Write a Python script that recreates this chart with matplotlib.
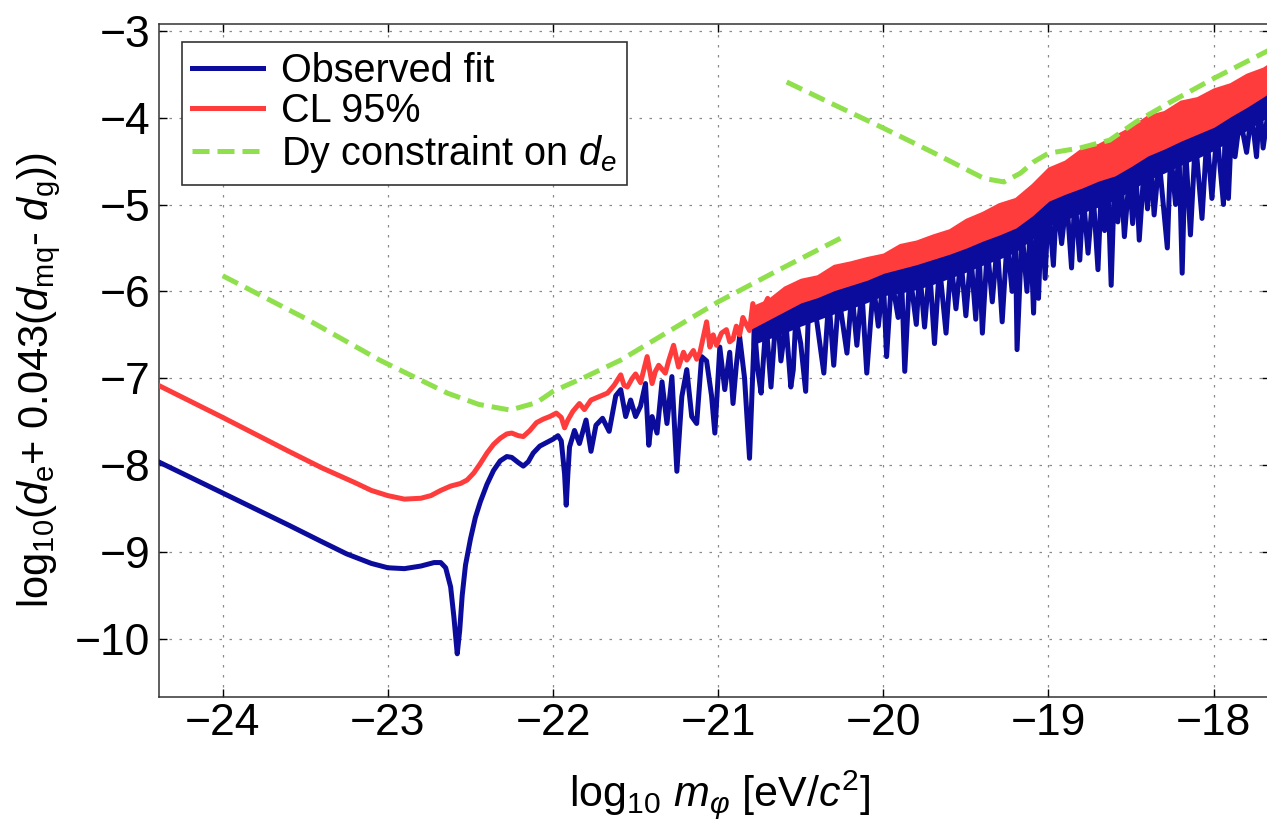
import matplotlib
matplotlib.use("Agg")
import matplotlib.pyplot as plt

plt.rcParams['font.family'] = ['Liberation Sans', 'DejaVu Sans']
plt.rcParams['mathtext.fontset'] = 'custom'
plt.rcParams['mathtext.rm'] = 'Liberation Sans'
plt.rcParams['mathtext.it'] = 'Liberation Sans:italic'
plt.rcParams['mathtext.bf'] = 'Liberation Sans:bold'

# ---- data ----
# observed fit (blue): smooth part, dip and first oscillations
blue_x = [-24.39, -24.0, -23.6, -23.4, -23.25, -23.1, -23.0, -22.9, -22.8, -22.72,
          -22.68, -22.65, -22.62, -22.60, -22.58, -22.565, -22.55, -22.53, -22.50, -22.47,
          -22.44, -22.40, -22.36, -22.32, -22.28, -22.25, -22.21, -22.18, -22.15, -22.12,
          -22.08, -22.04, -22.00, -21.97, -21.95, -21.93, -21.92, -21.91, -21.90, -21.87,
          -21.84, -21.80, -21.77, -21.74, -21.70, -21.66, -21.62, -21.59, -21.56, -21.53,
          -21.50, -21.47, -21.44, -21.42, -21.40, -21.37, -21.34, -21.31, -21.28, -21.25,
          -21.22, -21.19, -21.16, -21.13, -21.10, -21.07, -21.04, -21.02, -20.99, -20.96,
          -20.93, -20.91, -20.89, -20.87, -20.84, -20.81, -20.78, -20.76, -20.74, -20.71,
          -20.68, -20.66, -20.64, -20.62, -20.59, -20.56, -20.545, -20.53, -20.50, -20.47,
          -20.45, -20.42]
blue_y = [-7.96, -8.32, -8.69, -8.88, -9.02, -9.13, -9.18, -9.19, -9.16, -9.12,
          -9.12, -9.18, -9.40, -9.75, -10.17, -9.90, -9.50, -9.15, -8.85, -8.60,
          -8.42, -8.22, -8.06, -7.95, -7.90, -7.91, -7.97, -8.01, -7.96, -7.86,
          -7.78, -7.74, -7.70, -7.66, -7.72, -8.10, -8.46, -8.10, -7.79, -7.60,
          -7.75, -7.48, -7.84, -7.54, -7.46, -7.61, -7.20, -7.13, -7.44, -7.25,
          -7.44, -7.32, -7.06, -7.77, -7.44, -7.63, -7.04, -7.52, -6.98, -8.07,
          -7.21, -6.90, -7.44, -7.52, -6.75, -6.80, -7.20, -7.63, -6.64, -7.13,
          -6.70, -7.29, -6.85, -6.52, -7.00, -7.92, -6.41, -6.90, -7.17, -6.35,
          -7.10, -6.55, -6.29, -6.80, -6.35, -7.10, -6.90, -6.30, -6.60, -7.15,
          -6.06, -6.10]

# observed fit, dense region: solid band and spikes
band_x = [-20.8, -20.7, -20.6, -20.5, -20.4, -20.3, -20.2, -20.1, -20.0, -19.9,
          -19.8, -19.7, -19.6, -19.5, -19.4, -19.3, -19.2, -19.1, -19.0, -18.9,
          -18.8, -18.7, -18.6, -18.5, -18.4, -18.3, -18.2, -18.1, -18.0, -17.9,
          -17.8, -17.7, -17.66]
blue_band_top = [-6.38, -6.28, -6.19, -6.10, -6.03, -5.95, -5.89, -5.83, -5.75, -5.70,
                 -5.65, -5.59, -5.53, -5.46, -5.38, -5.31, -5.23, -5.09, -4.92, -4.84,
                 -4.77, -4.69, -4.63, -4.52, -4.40, -4.32, -4.23, -4.15, -4.07, -3.95,
                 -3.84, -3.72, -3.67]
blue_band_bot = [-6.62, -6.55, -6.48, -6.40, -6.33, -6.26, -6.20, -6.13, -6.05, -6.02,
                 -5.98, -5.92, -5.85, -5.78, -5.70, -5.63, -5.55, -5.40, -5.25, -5.18,
                 -5.10, -5.03, -4.95, -4.84, -4.72, -4.64, -4.55, -4.47, -4.38, -4.27,
                 -4.15, -4.03, -3.98]

spike_x = [-20.42, -20.36, -20.33, -20.30, -20.27, -20.22, -20.19, -20.16, -20.13, -20.10,
           -20.06, -20.03, -20.00, -19.98, -19.95, -19.91, -19.89, -19.87, -19.84, -19.80,
           -19.78, -19.75, -19.72, -19.69, -19.66, -19.62, -19.59, -19.56, -19.53, -19.50,
           -19.47, -19.44, -19.42, -19.40, -19.37, -19.34, -19.31, -19.28, -19.25, -19.22,
           -19.20, -19.19, -19.16, -19.13, -19.11, -19.09, -19.07, -19.06, -19.04, -19.02,
           -19.00, -18.97, -18.95, -18.92, -18.89, -18.86, -18.84, -18.81, -18.79, -18.76,
           -18.73, -18.70, -18.68, -18.66, -18.64, -18.62, -18.60, -18.58, -18.56, -18.54,
           -18.51, -18.49, -18.47, -18.45, -18.42, -18.40, -18.38, -18.36, -18.33, -18.28,
           -18.26, -18.23, -18.21, -18.19, -18.17, -18.14, -18.11, -18.07, -18.04, -18.01,
           -17.98, -17.94, -17.93, -17.91, -17.89, -17.87, -17.84, -17.80, -17.77, -17.74,
           -17.72, -17.70, -17.66]
spike_y = [-6.10, -6.94, -6.08, -6.85, -6.05, -6.71, -6.00, -6.62, -5.98, -6.94,
           -5.92, -6.40, -5.85, -6.75, -5.85, -6.30, -5.80, -6.92, -5.78, -6.38,
           -5.76, -6.41, -5.72, -6.60, -5.70, -6.48, -5.65, -6.20, -5.62, -6.28,
           -5.58, -6.32, -5.52, -6.48, -5.50, -6.12, -5.45, -6.35, -5.40, -6.00,
           -5.35, -6.67, -5.30, -6.00, -5.25, -6.25, -5.05, -6.08, -5.00, -5.85,
           -4.98, -5.70, -4.95, -5.45, -4.92, -5.73, -4.90, -5.64, -4.88, -5.56,
           -4.85, -5.75, -4.82, -5.30, -4.78, -5.93, -4.72, -5.20, -4.70, -5.37,
           -4.66, -5.22, -4.62, -5.41, -4.55, -5.05, -4.50, -5.12, -4.48, -5.50,
           -4.40, -5.00, -4.35, -5.79, -4.32, -5.35, -4.25, -5.16, -4.20, -4.93,
           -4.15, -5.00, -4.12, -4.93, -4.05, -4.45, -4.00, -4.40, -3.95, -4.45,
           -3.85, -4.35, -3.80]

# CL 95% (red)
red_x = [-24.39, -24.0, -23.6, -23.4, -23.2, -23.1, -23.0, -22.9, -22.8, -22.74,
         -22.68, -22.62, -22.56, -22.52, -22.48, -22.44, -22.40, -22.36, -22.32, -22.28,
         -22.25, -22.21, -22.18, -22.14, -22.10, -22.06, -22.02, -21.98, -21.95, -21.93,
         -21.91, -21.88, -21.84, -21.81, -21.77, -21.72, -21.67, -21.63, -21.59, -21.57,
         -21.55, -21.52, -21.50, -21.47, -21.45, -21.43, -21.40, -21.38, -21.36, -21.32,
         -21.30, -21.27, -21.24, -21.21, -21.19, -21.15, -21.13, -21.11, -21.07, -21.05,
         -21.03, -21.01, -20.98, -20.95, -20.93, -20.91, -20.89, -20.87, -20.85, -20.83,
         -20.81, -20.79, -20.77, -20.75, -20.73, -20.70, -20.67, -20.63]
red_y = [-7.08, -7.45, -7.84, -8.03, -8.20, -8.29, -8.35, -8.39, -8.38, -8.35,
         -8.29, -8.24, -8.21, -8.17, -8.09, -7.98, -7.86, -7.76, -7.69, -7.64,
         -7.63, -7.66, -7.67, -7.60, -7.51, -7.47, -7.44, -7.40, -7.45, -7.57,
         -7.48, -7.38, -7.29, -7.36, -7.25, -7.21, -7.17, -7.08, -6.96, -7.08,
         -7.10, -7.00, -6.95, -7.05, -6.90, -6.75, -7.06, -6.92, -6.85, -6.94,
         -6.80, -6.62, -6.87, -6.70, -6.79, -6.68, -6.78, -6.70, -6.35, -6.64,
         -6.50, -6.62, -6.48, -6.44, -6.58, -6.55, -6.40, -6.50, -6.30, -6.38,
         -6.45, -6.14, -6.35, -6.29, -6.20, -6.08, -6.21, -6.05]
red_band_top = [-6.18, -6.10, -5.95, -5.86, -5.82, -5.70, -5.66, -5.61, -5.57, -5.46,
                -5.42, -5.35, -5.29, -5.17, -5.09, -4.99, -4.93, -4.77, -4.58, -4.50,
                -4.36, -4.31, -4.21, -4.11, -3.98, -3.93, -3.81, -3.77, -3.67, -3.61,
                -3.50, -3.43, -3.38]
red_band_bot = [-6.42, -6.32, -6.22, -6.12, -6.06, -5.98, -5.92, -5.86, -5.78, -5.73,
                -5.68, -5.62, -5.56, -5.49, -5.41, -5.34, -5.26, -5.12, -4.95, -4.87,
                -4.80, -4.72, -4.66, -4.55, -4.43, -4.35, -4.26, -4.18, -4.10, -3.98,
                -3.87, -3.75, -3.70]

# Dy constraint on d_e (green dashed), two pieces
dy1_x = [-24.0, -23.5, -23.05, -22.64, -22.45, -22.26, -22.10, -22.0, -21.8, -21.59,
         -21.0, -20.63, -20.22]
dy1_y = [-5.82, -6.31, -6.79, -7.17, -7.30, -7.365, -7.28, -7.15, -6.98, -6.79,
         -6.12, -5.75, -5.35]
dy2_x = [-20.585, -20.3, -20.0, -19.7, -19.39, -19.27, -19.17, -19.09, -19.0, -18.81,
         -18.63, -18.47, -18.26, -18.0, -17.66]
dy2_y = [-3.59, -3.85, -4.12, -4.40, -4.70, -4.74, -4.64, -4.51, -4.41, -4.35,
         -4.26, -4.05, -3.82, -3.55, -3.22]

blue = '#0c0c9c'
red = '#ff3c3c'
green = '#8fe04c'

fig = plt.figure(figsize=(12.67, 8.23), dpi=100)
ax = fig.add_axes([0.1251, 0.1531, 0.8773, 0.8174])

lw = 3.6
ax.plot(blue_x, blue_y, color=blue, lw=lw, label='Observed fit', zorder=3)
ax.fill_between(band_x, blue_band_bot, blue_band_top, color=blue, lw=0, zorder=3)
ax.plot(spike_x, spike_y, color=blue, lw=lw, zorder=3)

ax.plot(red_x, red_y, color=red, lw=lw, label='CL 95%', zorder=4)
ax.fill_between(band_x, red_band_bot, red_band_top, color=red, lw=1.5,
                edgecolor=red, zorder=4)

ax.plot(dy1_x, dy1_y, color=green, lw=lw, dashes=(3.4, 1.6),
        label='Dy constraint on $d_e$', zorder=5)
ax.plot(dy2_x, dy2_y, color=green, lw=lw, dashes=(3.4, 1.6), zorder=5)

ax.set_xlim(-24.389, -17.658)
ax.set_ylim(-10.667, -2.926)
ax.set_xticks([-24, -23, -22, -21, -20, -19, -18])
ax.set_yticks([-10, -9, -8, -7, -6, -5, -4, -3])

ax.grid(True, color='#8a8a8a', lw=0.9, linestyle=(0, (2, 6)))
ax.set_axisbelow(True)
ax.tick_params(direction='in', length=6, width=1, labelsize=32,
               top=True, right=True)
ax.tick_params(axis='x', pad=4)
ax.tick_params(axis='y', pad=6)
for s in ax.spines.values():
    s.set_color('#333333')
    s.set_linewidth(1.1)

ax.set_xlabel(r'log$_{10}$ $m_\varphi$ [eV/$c^2$]', fontsize=31)
ax.xaxis.set_label_coords(0.505, -0.105)
fig.text(39 / 1267, 1 - 380 / 823,
         r'log$_{10}$($d_{\rm e}$+ 0.043($d_{\rm mq}$- $d_{\rm g}$))',
         rotation=90, ha='center', va='center', fontsize=30)

leg = ax.legend(loc='upper left', bbox_to_anchor=(0.0211, 0.9737), borderaxespad=0,
                fontsize=28.5, handlelength=1.8, handletextpad=0.45,
                labelspacing=0.06, borderpad=0.25, fancybox=False,
                framealpha=1, edgecolor='#333333')
leg.get_frame().set_linewidth(1.2)

plt.savefig('out.png', dpi=100)
